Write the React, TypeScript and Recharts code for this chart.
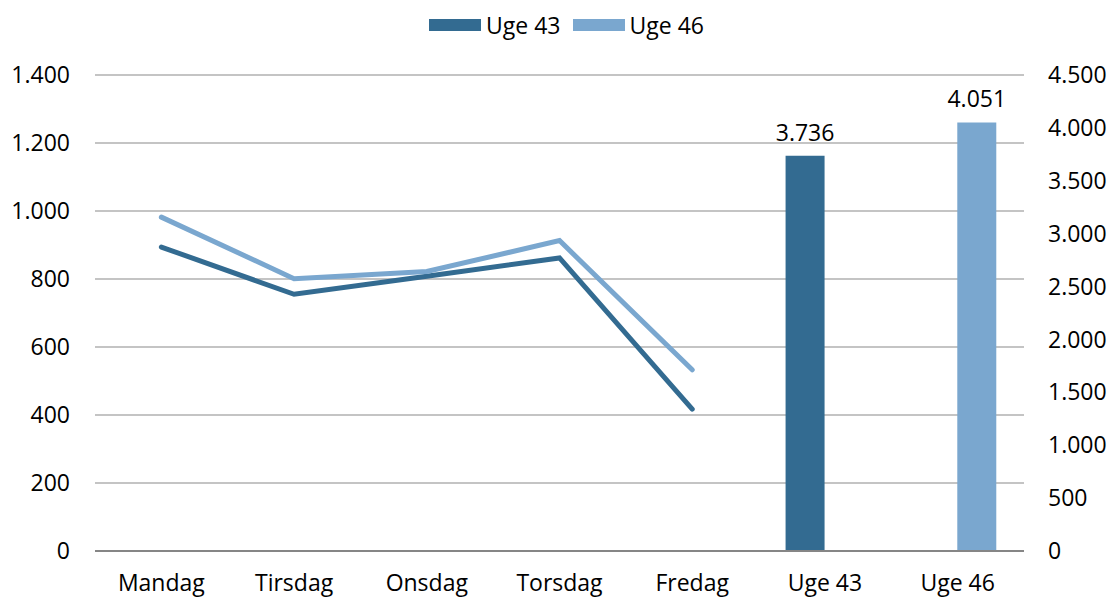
import React from 'react';
import {
    Bar,
    CartesianGrid,
    ComposedChart,
    LabelList,
    Legend,
    Line,
    XAxis,
    YAxis,
} from 'recharts';

const categories = ['Mandag', 'Tirsdag', 'Onsdag', 'Torsdag', 'Fredag', 'Uge 43', 'Uge 46'];
const days43 = [894, 755, 808, 862, 417];
const days46 = [982, 801, 822, 913, 533];
const week43 = 3736;
const week46 = 4051;
const leftTicks = [0, 200, 400, 600, 800, 1000, 1200, 1400];
const rightTicks = [0, 500, 1000, 1500, 2000, 2500, 3000, 3500, 4000, 4500];
const edgeTicks = [0, 1, 2, 3, 4, 5, 6, 7];

const DARK = '#336B91';
const LIGHT = '#7AA7CF';
const FONT = '"Open Sans", sans-serif';
const FS = 23;

const data = categories.map((name, i) => ({
    name,
    d43: i < days43.length ? days43[i] : null,
    d46: i < days46.length ? days46[i] : null,
    w43: name === 'Uge 43' ? week43 : null,
    w46: name === 'Uge 46' ? week46 : null,
}));

// danish thousands separator
const dk = (v: any) => {
    if (v === null || v === undefined || v === '') return '';
    return String(v).replace(/\B(?=(\d{3})+(?!\d))/g, '.');
};

const tickStyle = { fill: '#000', fontSize: FS, fontFamily: FONT };

const LegendBox = (props: any) => {
    const items = (props.payload || []).filter((p: any) => p.type !== 'none');
    return (
        <div style={{ display: 'flex', justifyContent: 'center', fontFamily: FONT, fontSize: FS, color: '#000' }}>
            {items.map((it: any) => (
                <div key={it.value} style={{ display: 'flex', alignItems: 'center', margin: '0 6px' }}>
                    <span style={{ display: 'inline-block', width: 52, height: 12, background: it.color, marginRight: 5 }} />
                    <span>{it.value}</span>
                </div>
            ))}
        </div>
    );
};

const App: React.FC = () => {
    return (
        <div style={{ position: 'absolute', left: 0, top: 0, background: '#fff' }}>
            <ComposedChart
                width={1113}
                height={599}
                data={data}
                margin={{ top: 75, right: 0, bottom: 0, left: 0 }}
                barGap={0}
            >
                <CartesianGrid xAxisId="cat" yAxisId="left" vertical={false} stroke="#c4c4c4" strokeWidth={2} />
                <XAxis
                    xAxisId={0}
                    type="number"
                    domain={[0, 7]}
                    ticks={edgeTicks}
                    allowDataOverflow
                    tick={false}
                    tickSize={9}
                    height={9}
                    stroke="#868686"
                    strokeWidth={2}
                />
                <XAxis
                    xAxisId="cat"
                    dataKey="name"
                    axisLine={false}
                    tickLine={false}
                    tickSize={0}
                    tickMargin={15}
                    height={39}
                    tick={tickStyle}
                    interval={0}
                />
                <YAxis
                    yAxisId="left"
                    domain={[0, 1400]}
                    ticks={leftTicks}
                    width={95}
                    axisLine={false}
                    tickLine={false}
                    tickSize={0}
                    tickMargin={25}
                    tick={tickStyle}
                    tickFormatter={dk}
                />
                <YAxis
                    yAxisId="right"
                    orientation="right"
                    domain={[0, 4500]}
                    ticks={rightTicks}
                    width={89}
                    axisLine={false}
                    tickLine={false}
                    tickSize={0}
                    tickMargin={24}
                    tick={tickStyle}
                    tickFormatter={dk}
                />
                <Legend
                    verticalAlign="middle"
                    align="center"
                    wrapperStyle={{ top: 9, left: 10, width: 1113 }}
                    content={<LegendBox />}
                />
                <Bar xAxisId="cat" yAxisId="right" dataKey="w43" name="Uge 43" fill={DARK} barSize={39} isAnimationActive={false}>
                    <LabelList dataKey="w43" position="top" offset={15} formatter={dk} fill="#000" fontSize={FS} fontFamily={FONT} />
                </Bar>
                <Bar xAxisId="cat" yAxisId="right" dataKey="w46" name="Uge 46" fill={LIGHT} barSize={39} isAnimationActive={false}>
                    <LabelList dataKey="w46" position="top" offset={15} formatter={dk} fill="#000" fontSize={FS} fontFamily={FONT} />
                </Bar>
                <Line
                    xAxisId="cat"
                    yAxisId="left"
                    dataKey="d43"
                    name="Uge 43 dage"
                    stroke={DARK}
                    strokeWidth={5}
                    strokeLinecap="round"
                    dot={false}
                    activeDot={false}
                    legendType="none"
                    isAnimationActive={false}
                />
                <Line
                    xAxisId="cat"
                    yAxisId="left"
                    dataKey="d46"
                    name="Uge 46 dage"
                    stroke={LIGHT}
                    strokeWidth={5}
                    strokeLinecap="round"
                    dot={false}
                    activeDot={false}
                    legendType="none"
                    isAnimationActive={false}
                />
            </ComposedChart>
        </div>
    );
};

export default App;
